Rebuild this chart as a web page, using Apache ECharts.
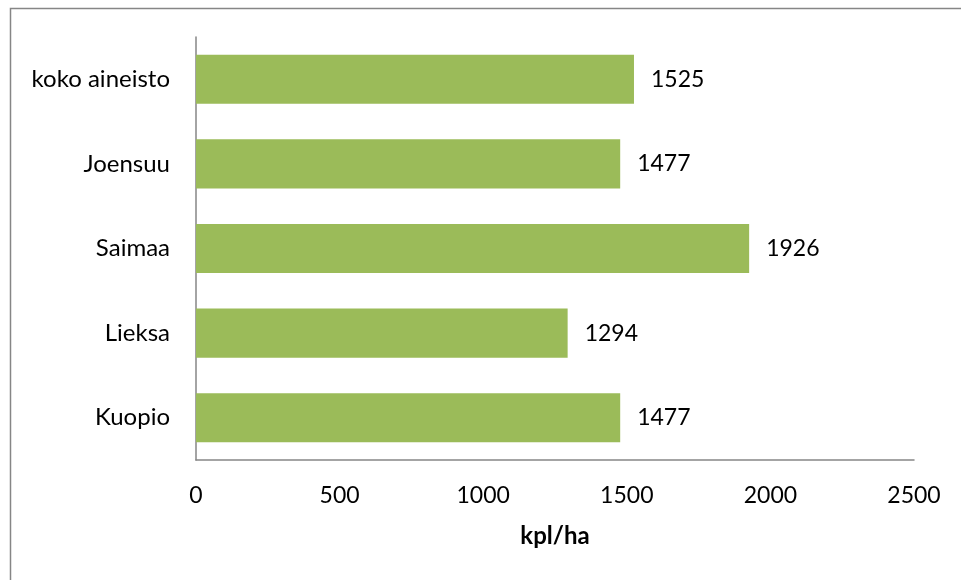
<!DOCTYPE html>
<html>
<head>
<meta charset="utf-8">
<script src="https://cdn.jsdelivr.net/npm/echarts@6/dist/echarts.min.js"></script>
<style>
  html, body { margin: 0; padding: 0; background: #fff; }
  #chart { width: 961px; height: 580px; }
</style>
</head>
<body>
<div id="chart"></div>
<script>
// Stand density per area (bottom-to-top order on the category axis)
var categories = ['Kuopio', 'Lieksa', 'Saimaa', 'Joensuu', 'koko aineisto'];
var values = [1477, 1294, 1926, 1477, 1525];
var xTicks = [0, 500, 1000, 1500, 2000, 2500];
var xAxisTitle = 'kpl/ha';

var FONT = 'Lato';
var chart = echarts.init(document.getElementById('chart'), null, { renderer: 'canvas' });

chart.setOption({
  animation: false,
  backgroundColor: '#ffffff',
  graphic: [{
    type: 'rect',
    shape: { x: 10.5, y: 8.5, width: 980, height: 600 },
    style: { fill: 'none', stroke: '#868686', lineWidth: 1.5 },
    silent: true
  }],
  grid: { left: 196, right: 47, top: 37, bottom: 120 },
  xAxis: {
    type: 'value',
    min: xTicks[0],
    max: xTicks[xTicks.length - 1],
    interval: xTicks[1] - xTicks[0],
    name: xAxisTitle,
    nameLocation: 'middle',
    nameGap: 64,
    nameTextStyle: { fontFamily: FONT, fontSize: 24, fontWeight: 'bold', color: '#000' },
    axisLine: { show: true, lineStyle: { color: '#868686', width: 1.5 } },
    axisTick: { show: false },
    splitLine: { show: false },
    axisLabel: {
      margin: 24, fontFamily: FONT, fontSize: 23, color: '#000',
      formatter: function (v) { return String(v); }
    }
  },
  yAxis: {
    type: 'category',
    data: categories,
    axisLine: { show: true, lineStyle: { color: '#868686', width: 1.5 } },
    axisTick: { show: false },
    axisLabel: { margin: 26, fontFamily: FONT, fontSize: 24, color: '#000' }
  },
  series: [{
    type: 'bar',
    data: values,
    barCategoryGap: '42%',
    itemStyle: { color: '#9BBB59' },
    label: {
      show: true,
      position: 'right',
      distance: 17,
      fontFamily: FONT,
      fontSize: 23,
      color: '#000'
    }
  }]
});
</script>
</body>
</html>
